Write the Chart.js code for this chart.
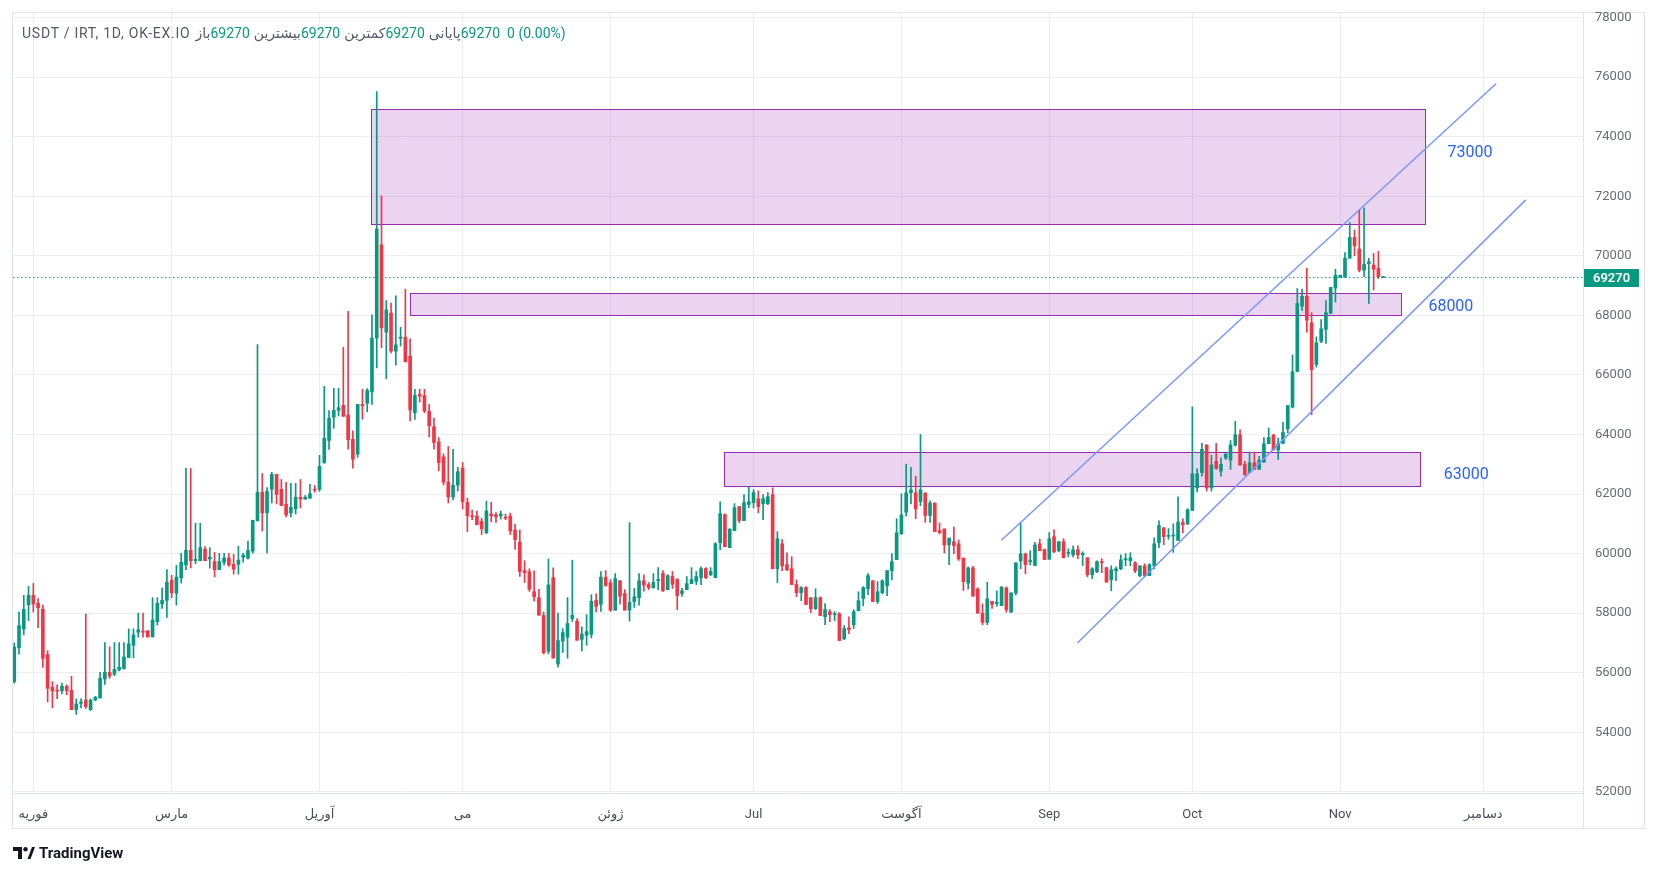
<!DOCTYPE html>
<html>
<head>
<meta charset="utf-8">
<script src="https://cdn.jsdelivr.net/npm/chart.js@4.4.1/dist/chart.umd.min.js"></script>
<style>
  html, body { margin: 0; padding: 0; background: #fff; }
  #wrap { position: relative; width: 1658px; height: 876px; }
  #c { position: absolute; left: 0; top: 0; }
  #legend {
    position: absolute; left: 22px; top: 24px; height: 18px; line-height: 18px;
    font-family: Roboto, "DejaVu Sans", sans-serif; font-size: 14px; color: #555a66;
    direction: ltr; white-space: nowrap;
  }
  #legend span { unicode-bidi: isolate; display: inline-block; }
  #legend .sym { letter-spacing: 0.75px; margin-right: 4px; }
  #legend .v { color: #089981; margin-right: 3px; }
  #legend .k { margin-left: 1px; }
  #brand {
    position: absolute; left: 13px; top: 843px; height: 20px; line-height: 20px;
    font-family: Roboto, "DejaVu Sans", sans-serif; font-size: 15px; font-weight: 700; color: #131722;
    display: flex; align-items: center; gap: 4px;
  }
</style>
</head>
<body>
<div id="wrap">
  <canvas id="c" width="1658" height="876"></canvas>
  <div id="legend"></div>
  <div id="brand">
    <svg width="22" height="12" viewBox="0 0 22 12"><path d="M0 0h9v12H5V4H0z" fill="#131722"/><circle cx="12.5" cy="2.2" r="2.2" fill="#131722"/><path d="M14.5 12L19 0h3l-4.5 12z" fill="#131722"/></svg>
    <span>TradingView</span>
  </div>
</div>
<script>
// daily candles, first one on 2024-01-28
const firstDate = '2024-01-28';

const monthDates = ['2024-02-01', '2024-03-01', '2024-04-01', '2024-05-01', '2024-06-01', '2024-07-01',
  '2024-08-01', '2024-09-01', '2024-10-01', '2024-11-01', '2024-12-01'];
const monthLabels = ['فوریه', 'مارس', 'آوریل', 'می', 'ژوئن', 'Jul', 'آگوست', 'Sep', 'Oct', 'Nov', 'دسامبر'];
const priceTicks = [52000, 54000, 56000, 58000, 60000, 62000, 64000, 66000, 68000, 70000, 72000, 74000, 76000, 78000];

const openVals = [
  55700,56840,57470,58280,58600,58330,58130,56610,55510,55410,
  55390,55550,55410,54760,54970,55080,54760,55080,55150,55790,
  56010,55950,56100,56140,56510,56920,57360,57390,57410,57200,
  57710,58310,58430,59110,58670,59190,59620,60110,59760,59760,
  60150,59820,59730,59460,59710,59850,59640,59640,59880,59850,
  60080,61100,62060,61370,62160,62660,62160,61660,61370,61500,
  61890,61830,61860,62160,62160,63060,63800,64580,64810,64980,
  64650,63840,63340,65010,65050,65430,67240,70370,67440,68080,
  66800,67230,67270,66630,64730,65350,65310,64780,64260,63750,
  63250,62400,61900,62300,62870,61720,61270,61260,61080,60700,
  61330,61300,61270,61230,61260,60790,60390,59430,59390,58720,
  58520,57920,56720,59190,56290,57060,57190,57820,57730,57120,
  57260,57290,58430,58300,59210,59020,58100,59090,58660,58100,
  58390,58520,59090,58960,58860,59090,59330,58790,59230,59130,
  58660,58790,58990,59070,59190,59500,59290,59190,60370,61310,
  60200,60770,61580,61110,61650,61710,61840,61680,61680,61980,
  59490,60330,59630,59490,58960,58690,58860,58520,58150,58520,
  57880,58050,57950,57980,57140,57510,57610,58080,58490,58820,
  59090,58390,58690,58920,59430,59800,60670,61390,62040,62040,
  61750,62040,61280,61700,60770,60830,60300,60400,60330,59850,
  59010,59520,58810,58000,57690,58400,58320,58250,58850,58030,
  58680,59750,59990,59730,59600,60330,60130,59810,60570,60100,
  60400,60010,59960,60130,59960,59860,59290,59390,59730,59530,
  59120,59420,59490,59790,59760,59690,59260,59590,59260,59590,
  60370,60870,60580,60590,60440,61040,61000,61450,62210,62720,
  63650,62210,63100,62770,63210,63140,63640,63990,63000,62720,
  63050,62830,63070,63690,63990,63480,63700,64190,64920,66120,
  68310,68640,67750,66350,67130,67530,68070,68920,69280,69280,
  69920,70620,70230,69520,69740,69690,69580,69270
];
const highVals = [
  57000,58040,58600,58900,59000,58490,58270,56740,55700,55590,
  55650,55590,55880,55120,55120,57970,55120,55200,56010,57010,
  56870,57010,57010,57010,57470,57470,58000,58000,57410,58520,
  58520,58850,59460,59270,59610,60010,62860,62860,61020,61020,
  60240,60200,60040,60010,60010,60010,59980,60250,60010,60420,
  61120,67020,62690,62220,62730,62660,62490,62390,62360,62360,
  62490,61950,62330,62290,63300,65620,64800,65550,65550,66930,
  68140,64120,65010,65520,65540,68020,75520,72020,68500,68410,
  68660,67600,68880,67210,65520,65520,65520,65010,64550,63900,
  63350,63600,63500,62900,63060,61860,61460,61430,61190,61760,
  61720,61380,61430,61330,61360,60990,60790,59760,59490,59420,
  58800,58040,59820,59520,58000,57480,58520,59780,57820,57540,
  57950,58620,58650,59400,59430,59130,59330,59090,58790,61040,
  58830,59330,59290,59030,59330,59530,59430,59290,59400,59160,
  58830,59230,59530,59400,59560,59530,59530,60370,61740,61340,
  60840,61680,61580,61980,62250,62150,62110,61980,62050,62210,
  60740,60470,60030,59900,59120,58890,58890,58520,58820,58550,
  58320,58120,58050,58020,57580,57880,58120,58720,58890,59330,
  59090,59060,59120,59430,60000,61170,62010,63000,62900,62600,
  64000,62040,61770,61700,61030,60830,60520,60890,60460,59850,
  59550,59570,58850,58310,59040,58400,58750,58900,58880,58680,
  59690,61050,60020,60100,60380,60490,60160,60710,60800,60400,
  60500,60160,60260,60260,60060,59860,59530,59760,59830,59530,
  59590,59560,59960,60000,60030,59730,59590,59660,59660,60530,
  61100,60870,60840,61000,61910,61170,61510,64930,62850,63700,
  63650,63300,63700,63220,63350,63800,64440,64160,63100,63410,
  63410,63270,63900,64220,63990,63880,64410,64970,66670,68900,
  68880,69580,68090,67280,67860,68500,68940,69550,69350,70110,
  71120,70870,71550,71610,69920,70080,70150,69270
];
const lowVals = [
  55650,56620,57270,57750,58040,57510,56180,55020,54820,55130,
  55290,55260,54760,54600,54820,54800,54730,55060,55150,55610,
  55810,55900,56060,56120,56500,56500,57190,57190,57200,57200,
  57600,58160,57860,58520,58270,59010,59460,59520,59660,59760,
  59760,59510,59220,59460,59610,59570,59310,59310,59710,59810,
  60010,61100,60760,60020,61700,61670,61600,61230,61230,61330,
  61530,61830,61860,62060,62090,63030,63500,64210,64620,64610,
  63510,62870,63230,64510,64760,65010,66240,66910,65870,66740,
  66330,66970,66440,64460,64510,65090,64730,63920,63510,62780,
  62300,61700,61800,62100,61500,60740,61140,60970,60640,60670,
  61070,61050,61160,61140,60640,60140,59230,59030,58730,58400,
  57930,56630,56630,56490,56190,56680,56490,57720,57090,56720,
  56920,57170,58040,58060,58900,58060,58100,58300,58100,57730,
  58190,58270,58740,58790,58830,58790,58720,58790,58830,58120,
  58560,58790,58990,58960,58960,59160,59260,59190,60130,60230,
  60200,60770,61040,61110,61540,61530,61370,61140,61640,59490,
  59020,59430,59430,58960,58550,58420,58290,58020,58120,57920,
  57610,57710,57750,57080,57110,57310,57480,58080,58250,58620,
  58390,58320,58650,58590,59120,59800,60640,61260,61670,61170,
  61610,61050,61050,60740,60660,60020,59630,60000,59770,58760,
  58810,58570,58000,57610,57610,58160,58230,58250,58030,58030,
  58610,59490,59320,59620,59600,60100,59800,59810,60030,60060,
  59860,59890,59890,59830,59600,59220,59160,59360,59360,59040,
  58750,59090,59460,59590,59590,59360,59220,59220,59260,59490,
  60200,60300,60480,60040,60440,60700,60970,61450,62070,62600,
  62100,62100,62830,62600,63160,62830,63610,62970,62640,62720,
  62830,62830,63070,63690,63480,63160,63700,64060,64890,66100,
  68170,67440,64660,66260,67080,67060,68070,68450,69280,69280,
  69920,70000,69460,69300,68400,68850,69240,69270
];
const closeVals = [
  56860,57580,58130,58600,58310,58180,56480,55480,55390,55380,
  55550,55390,54760,54950,55020,54860,55080,55180,55810,56010,
  55890,56110,56180,56530,56970,57270,57440,57360,57200,57770,
  58330,58430,59040,58680,59210,59710,60110,59760,59810,60200,
  59760,59880,59460,59730,59850,59620,59480,59780,59950,60110,
  61120,62060,61370,62090,62660,61990,61620,61300,61550,61890,
  61830,61890,62010,62130,62930,63870,64540,64810,64900,64610,
  63820,63170,65010,64960,65480,67240,70900,67580,68190,66800,
  67010,67270,66440,64820,65310,65290,64790,64290,63730,63060,
  62400,61900,62300,62750,61740,61270,61240,60970,60830,61430,
  61270,61240,61330,61190,60760,60470,59400,59360,58800,58550,
  57930,56670,58950,56490,57080,57350,57650,57930,57090,57290,
  57380,58400,58230,59210,58930,58100,59160,58570,58100,58360,
  58550,59090,58940,58860,59030,59130,58760,59260,58970,58590,
  58750,58990,59130,59230,59500,59190,59400,60330,61340,60230,
  60820,61540,61110,61710,61740,62050,61580,61840,61910,59490,
  60500,59590,59460,58960,58690,58860,58290,58150,58520,57920,
  58120,57950,57980,57080,57480,57450,58050,58420,58860,59260,
  58390,58720,59090,59430,59730,60700,61300,62040,62140,61500,
  62140,61280,61700,60740,60710,60290,60520,60270,59820,59060,
  59520,58570,58000,57690,58480,58290,58370,58870,58120,58680,
  59690,59990,59630,59770,60290,60100,59800,60500,60060,60400,
  59860,60040,60130,59960,60010,59290,59490,59730,59690,59040,
  59460,59490,59790,59830,59860,59420,59590,59260,59630,60330,
  60940,60570,60610,60610,61060,60970,61470,62680,62680,63500,
  62210,62980,62860,63000,63350,63650,63990,62970,62640,63050,
  62830,63130,63690,63900,63480,63700,64070,64970,66110,68400,
  68640,67840,66180,67080,67550,68090,68940,69350,69350,69920,
  70620,70340,69520,69720,69800,69550,69300,69270
];

// drawn zones (x in days since firstDate, prices)
const zones = [
  { from: 74.8, to: 295.8, low: 71060, high: 74920 },
  { from: 83.0, to: 290.8, low: 68000, high: 68740 },
  { from: 148.9, to: 294.7, low: 62260, high: 63400 }
];
const zoneLabels = [
  { text: '73000', x: 305.2, y: 73450 },
  { text: '68000', x: 301.2, y: 68280 },
  { text: '63000', x: 304.4, y: 62640 }
];
const upperLine = [{ x: 206.96, y: 60450 }, { x: 310.7, y: 75790 }];
const lowerLine = [{ x: 222.9, y: 57000 }, { x: 316.9, y: 71880 }];

const GREEN = '#089981';
const RED = '#f23645';
const X_MIN = -0.26, X_MAX = 328.9;

const dayOf = s => Math.round((Date.parse(s) - Date.parse(firstDate)) / 864e5);
const monthDays = monthDates.map(dayOf);
const lastClose = closeVals[closeVals.length - 1];
const candleColors = openVals.map((o, i) => closeVals[i] >= o ? GREEN : RED);

// legend line
const legendParts = [['باز', lastClose], ['بیشترین', lastClose], ['کمترین', lastClose], ['پایانی', lastClose]];
document.getElementById('legend').innerHTML =
  '<span class="sym">USDT / IRT, 1D, OK-EX.IO</span>' +
  legendParts.map(p => `<span class="k">${p[0]}</span><span class="v">${p[1]}</span>`).join('') +
  '<span class="v" style="margin-left:4px">0 (0.00%)</span>';

const overlayPlugin = {
  id: 'overlay',
  beforeDraw(chart) {
    const ctx = chart.ctx;
    ctx.save();
    ctx.fillStyle = '#fff';
    ctx.fillRect(0, 0, chart.width, chart.height);
    ctx.strokeStyle = '#e0e3eb';
    ctx.lineWidth = 1;
    ctx.strokeRect(12.5, 12.5, 1632, 816);
    ctx.beginPath();
    ctx.moveTo(1583.5, 12.5);
    ctx.lineTo(1583.5, 828.5);
    ctx.stroke();
    ctx.restore();
  },
  beforeDatasetsDraw(chart) {
    const { ctx, chartArea: a, scales: { x, y } } = chart;
    ctx.save();
    ctx.beginPath();
    ctx.rect(a.left, a.top, a.right - a.left, a.bottom - a.top);
    ctx.clip();
    zones.forEach(z => {
      const x0 = Math.round(x.getPixelForValue(z.from)) + 0.5;
      const x1 = Math.round(x.getPixelForValue(z.to)) + 0.5;
      const y0 = Math.round(y.getPixelForValue(z.high)) + 0.5;
      const y1 = Math.round(y.getPixelForValue(z.low)) + 0.5;
      ctx.fillStyle = 'rgba(156, 39, 176, 0.2)';
      ctx.fillRect(x0, y0, x1 - x0, y1 - y0);
      ctx.strokeStyle = '#9c27b0';
      ctx.lineWidth = 1;
      ctx.strokeRect(x0, y0, x1 - x0, y1 - y0);
    });
    ctx.restore();
  },
  afterDatasetsDraw(chart) {
    const { ctx, scales: { x, y } } = chart;
    ctx.save();
    ctx.font = '16px Roboto, "DejaVu Sans", sans-serif';
    ctx.fillStyle = '#2962ff';
    ctx.textAlign = 'center';
    ctx.textBaseline = 'middle';
    zoneLabels.forEach(l => ctx.fillText(l.text, x.getPixelForValue(l.x), y.getPixelForValue(l.y)));

    // last price tag on the axis
    const py = y.getPixelForValue(lastClose);
    ctx.fillStyle = GREEN;
    ctx.fillRect(1584, Math.round(py) - 9, 55, 18);
    ctx.fillStyle = '#fff';
    ctx.font = '600 13px Roboto, "DejaVu Sans", sans-serif';
    ctx.textAlign = 'left';
    ctx.fillText(String(lastClose), 1593, py + 1);
    ctx.restore();
  }
};

new Chart(document.getElementById('c'), {
  type: 'bar',
  data: {
    datasets: [
      {
        type: 'line',
        data: upperLine,
        borderColor: '#7898ff',
        borderWidth: 1.5,
        pointRadius: 0,
        order: 0
      },
      {
        type: 'line',
        data: lowerLine,
        borderColor: '#7898ff',
        borderWidth: 1.5,
        pointRadius: 0,
        order: 0
      },
      {
        type: 'line',
        data: [{ x: X_MIN, y: lastClose }, { x: X_MAX, y: lastClose }],
        borderColor: GREEN,
        borderWidth: 1,
        borderDash: [1.5, 2.5],
        pointRadius: 0,
        order: 0
      },
      {
        label: 'body',
        data: openVals.map((o, i) => ({ x: i, y: [o, closeVals[i]] })),
        backgroundColor: candleColors,
        barThickness: 3,
        minBarLength: 1,
        grouped: false,
        order: 1
      },
      {
        label: 'wick',
        data: lowVals.map((l, i) => ({ x: i, y: [l, highVals[i]] })),
        backgroundColor: candleColors,
        barThickness: 1,
        minBarLength: 1,
        grouped: false,
        order: 2
      }
    ]
  },
  options: {
    responsive: false,
    animation: false,
    devicePixelRatio: 1,
    layout: { padding: { left: 13, top: 13, right: 14, bottom: 48 } },
    plugins: {
      legend: { display: false },
      tooltip: { enabled: false }
    },
    scales: {
      x: {
        type: 'linear',
        min: X_MIN,
        max: X_MAX,
        offset: false,
        afterBuildTicks: s => { s.ticks = monthDays.map(v => ({ value: v })); },
        afterFit: s => { s.height = 35; s.paddingLeft = 0; s.paddingRight = 0; },
        ticks: {
          autoSkip: false,
          maxRotation: 0,
          padding: 14,
          color: '#4a4e59',
          font: { family: 'Roboto, "DejaVu Sans", sans-serif', size: 13 },
          callback: (v, i) => monthLabels[i]
        },
        grid: { color: '#eceef3', drawTicks: false, offset: false },
        border: { color: '#e0e3eb' }
      },
      y: {
        type: 'linear',
        position: 'right',
        min: 51960,
        max: 78156,
        afterBuildTicks: s => { s.ticks = priceTicks.map(v => ({ value: v })); },
        afterFit: s => { s.width = 61; s.paddingTop = 0; s.paddingBottom = 0; },
        ticks: {
          padding: 12,
          color: '#6a6d78',
          font: { family: 'Roboto, "DejaVu Sans", sans-serif', size: 13 },
          callback: v => String(v)
        },
        grid: { color: '#eceef3', drawTicks: false },
        border: { color: '#e0e3eb' }
      }
    }
  },
  plugins: [overlayPlugin]
});
</script>
</body>
</html>
